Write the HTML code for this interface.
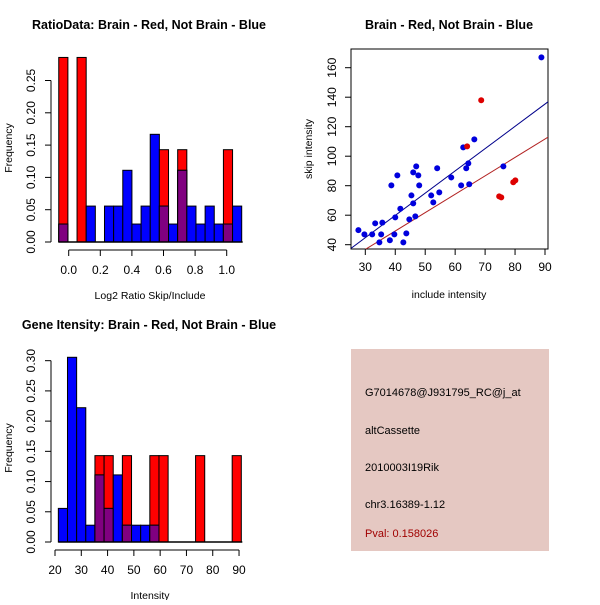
<!DOCTYPE html>
<html><head><meta charset="utf-8"><style>
body{margin:0;background:#fff}
svg text{font-family:"Liberation Sans",sans-serif}
</style></head><body>
<svg id="c" width="600" height="600" xmlns="http://www.w3.org/2000/svg">
<rect width="600" height="600" fill="#fff"/>
<g id="p1"></g>
<g id="p2"></g>
<g id="p3"></g>
<g id="p4">
<rect x="351" y="349" width="198" height="202" fill="#e5c8c2"/>
<text x="365" y="396" font-size="11">G7014678@J931795_RC@j_at</text>
<text x="365" y="434" font-size="11">altCassette</text>
<text x="365" y="471" font-size="11">2010003I19Rik</text>
<text x="365" y="508" font-size="11">chr3.16389-1.12</text>
<text x="365" y="537" font-size="11" fill="#a00000">Pval: 0.158026</text>
</g>
</svg>
<script>
// Panel 1 data
const ratioRed=[0.2857,0,0.2857,0,0,0,0,0,0,0,0,0.1429,0,0.1429,0,0,0,0,0.1429,0];
const ratioBlue=[0.0278,0,0,0.0556,0,0.0556,0.0556,0.111,0.0278,0.0556,0.1667,0.0556,0.0278,0.111,0.0556,0.0278,0.0556,0.0278,0.0278,0.0556];
const ratioXTicks=[0,0.2,0.4,0.6,0.8,1.0];
const ratioXLabels=["0.0","0.2","0.4","0.6","0.8","1.0"];
const ratioYTicks=[0,0.05,0.10,0.15,0.20,0.25];
const ratioYLabels=["0.00","0.05","0.10","0.15","0.20","0.25"];
// Panel 2 data
const blueX=[27.7,29.7,32.3,33.3,35.3,35.7,34.7,38.2,38.7,39.7,40,40.7,41.7,42.7,43.7,44.7,45.4,46,46,46.7,47,47.7,48,52,52.7,54,54.7,58.7,62,62.7,63.7,64.4,64.7,66.4,76.1,88.8];
const blueY=[49.9,47,47,54.5,47,55,41.6,43,80.2,47,58.5,87,64.4,41.6,47.7,57.2,73.4,89,68,59.2,93.1,87,80.2,73.4,68.7,91.8,75.5,85.6,80.2,106,91.8,95.1,81,111.4,93.1,167];
const redX=[64,68.7,74.7,75.4,79.4,80.1];
const redY=[106.7,137.9,72.8,72.1,82.3,83.6];
const blueFit=[-0.55,1.51];
const redFit=[-0.6,1.247];
const scatXTicks=[30,40,50,60,70,80,90];
const scatYTicks=[40,60,80,100,120,140,160];
// Panel 3 data
const geneRed=[0,0,0,0,0.1429,0.1429,0,0.1429,0,0,0.1429,0.1429,0,0,0,0.1429,0,0,0,0.1429];
const geneBlue=[0.0556,0.3056,0.2222,0.0278,0.111,0.0556,0.111,0.0278,0.0278,0.0278,0.0278,0,0,0,0,0,0,0,0,0];
const geneXTicks=[20,30,40,50,60,70,80,90];
const geneYTicks=[0,0.05,0.10,0.15,0.20,0.25,0.30];
const geneYLabels=["0.00","0.05","0.10","0.15","0.20","0.25","0.30"];

const NS="http://www.w3.org/2000/svg";
function mk(parent,tag,attrs,txt){const e=document.createElementNS(NS,tag);for(const k in attrs)e.setAttribute(k,attrs[k]);if(txt!==undefined)e.textContent=txt;parent.appendChild(e);return e;}

function hist(g,opt){
  const sx=v=>opt.x0+(v-opt.v0)*opt.kx, sy=v=>opt.y0-v*opt.ky;
  const n=opt.red.length;
  for(let i=0;i<n;i++){
    const a=opt.start+i*opt.w,b=a+opt.w;
    const r=opt.red[i],bl=opt.blue[i];
    const x=sx(a),wd=sx(b)-sx(a);
    if(r>0){const e=mk(g,'rect',{x:x,y:sy(r),width:wd,height:sy(0)-sy(r),fill:'#ff0000',stroke:'#000','stroke-width':1});
      }
    if(bl>0){const e=mk(g,'rect',{x:x,y:sy(bl),width:wd,height:sy(0)-sy(bl),fill:'#0000ff',stroke:'#000','stroke-width':1});
      }
    if(r>0&&bl>0){const m=Math.min(r,bl);const e=mk(g,'rect',{x:x,y:sy(m),width:wd,height:sy(0)-sy(m),fill:'#800080',stroke:'#000','stroke-width':1});
      }
  }
  const bx1=sx(opt.start),bx2=sx(opt.start+n*opt.w);
  mk(g,'line',{x1:bx1,x2:bx2+1,y1:opt.y0,y2:opt.y0,stroke:'#000','stroke-width':1.5});
  const ya=mk(g,'g',{});
  
  const yt=opt.yTicks;
  mk(ya,'line',{x1:51,x2:51,y1:sy(yt[0]),y2:sy(yt[yt.length-1]),stroke:'#000'});
  yt.forEach((t,i)=>{mk(ya,'line',{x1:45,x2:51,y1:sy(t),y2:sy(t),stroke:'#000'});
    const tx=mk(ya,'text',{x:0,y:0,'font-size':12,'text-anchor':'middle',transform:`translate(35,${sy(t)}) rotate(-90)`},opt.yLabels[i]);
    });
  const xa=mk(g,'g',{});
  
  const xt=opt.xTicks,ay=opt.y0+8;
  mk(xa,'line',{x1:sx(xt[0]),x2:sx(xt[xt.length-1]),y1:ay,y2:ay,stroke:'#000'});
  xt.forEach((t,i)=>{mk(xa,'line',{x1:sx(t),x2:sx(t),y1:ay,y2:ay+6,stroke:'#000'});
    const tx=mk(xa,'text',{x:sx(t),y:ay+24,'font-size':12,'text-anchor':'middle'},opt.xLabels[i]);
    });
  const tt=mk(g,'text',{x:opt.tx,y:opt.ty,'font-size':12.5,'font-weight':'bold','text-anchor':'middle'},opt.title);
  
  const xl=mk(g,'text',{x:150,y:opt.y0+57,'font-size':10.5,'text-anchor':'middle'},opt.xlab);
  
  const yl=mk(g,'text',{x:0,y:0,'font-size':10.5,'text-anchor':'middle',transform:`translate(12,${opt.y0-94}) rotate(-90)`},'Frequency');
  
}

hist(document.getElementById('p1'),{red:ratioRed,blue:ratioBlue,start:-0.063,w:0.0579,x0:68.7,v0:0,kx:158,y0:242,ky:646,
  xTicks:ratioXTicks,xLabels:ratioXLabels,yTicks:ratioYTicks,yLabels:ratioYLabels,title:'RatioData: Brain - Red, Not Brain - Blue',tx:149,ty:29,xlab:'Log2 Ratio Skip/Include'});
hist(document.getElementById('p3'),{red:geneRed,blue:geneBlue,start:21.27,w:3.48,x0:55,v0:20,kx:2.629,y0:542,ky:604.4,
  xTicks:geneXTicks,xLabels:geneXTicks.map(String),yTicks:geneYTicks,yLabels:geneYLabels,title:'Gene Itensity: Brain - Red, Not Brain - Blue',tx:149,ty:329,xlab:'Intensity'});

(function(){
  const g=document.getElementById('p2');
  const L=351,R=548,T=49,B=249;
  const sx=v=>365.3+(v-30)*2.995, sy=v=>244.7-(v-40)*1.475;
  mk(g,'defs',{}).innerHTML='<clipPath id="cl"><rect x="351" y="49" width="197" height="200"/></clipPath>';
  const box=mk(g,'rect',{x:L,y:T,width:R-L,height:B-T,fill:'none',stroke:'#000'});
  
  const vx=v=>30+(v-365.3)/2.995;
  [[blueFit,'#00008b','blue-fit-line'],[redFit,'#b22222','red-fit-line']].forEach(([f,c,n])=>{
    const a=vx(L),b=vx(R);
    const l=mk(g,'line',{x1:sx(a),y1:sy(f[0]+f[1]*a),x2:sx(b),y2:sy(f[0]+f[1]*b),stroke:c,'clip-path':'url(#cl)'});
    
  });
  blueX.forEach((v,i)=>{const p=mk(g,'circle',{cx:sx(v),cy:sy(blueY[i]),r:3,fill:'#0000dd'});
    });
  redX.forEach((v,i)=>{const p=mk(g,'circle',{cx:sx(v),cy:sy(redY[i]),r:3,fill:'#dd0000'});
    });
  scatXTicks.forEach(t=>{mk(g,'line',{x1:sx(t),x2:sx(t),y1:B,y2:B+6,stroke:'#000'});
    const tx=mk(g,'text',{x:sx(t),y:B+22,'font-size':12,'text-anchor':'middle'},String(t));
    });
  scatYTicks.forEach(t=>{mk(g,'line',{x1:L-6,x2:L,y1:sy(t),y2:sy(t),stroke:'#000'});
    const tx=mk(g,'text',{x:0,y:0,'font-size':12,'text-anchor':'middle',transform:`translate(336,${sy(t)}) rotate(-90)`},String(t));
    });
  const tt=mk(g,'text',{x:449,y:29,'font-size':12.5,'font-weight':'bold','text-anchor':'middle'},'Brain - Red, Not Brain - Blue');
  
  const xl=mk(g,'text',{x:449,y:298,'font-size':10.5,'text-anchor':'middle'},'include intensity');
  
  const yl=mk(g,'text',{x:0,y:0,'font-size':10.5,'text-anchor':'middle',transform:'translate(312,149) rotate(-90)'},'skip intensity');
  
})();
</script>
</body></html>
